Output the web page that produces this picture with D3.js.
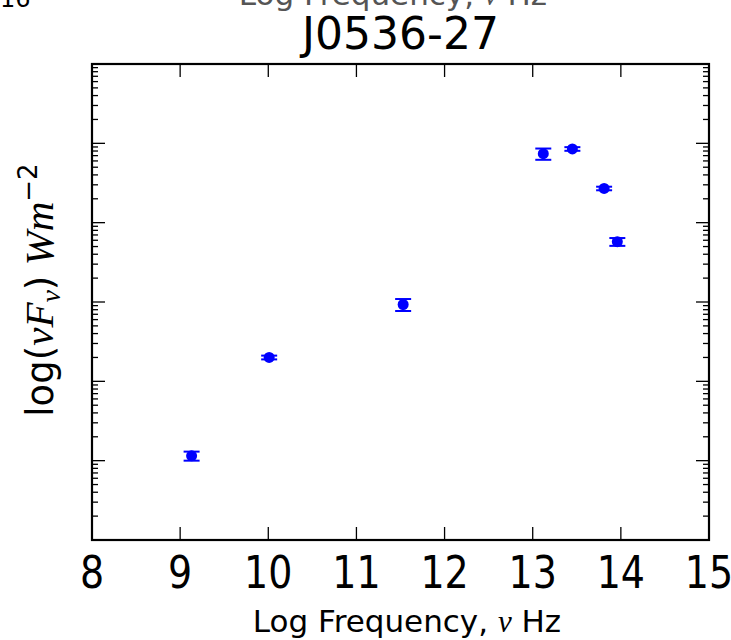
<!DOCTYPE html>
<html lang="en">
<head>
<meta charset="UTF-8">
<title>J0536-27</title>
<script src="https://d3js.org/d3.v7.min.js"></script>
<style>
  body { margin: 0; background: #fff; }
  text { font-family: "DejaVu Sans", sans-serif; }
  .math { font-family: "Liberation Serif", serif; font-style: italic; }
</style>
</head>
<body>
<script>
// data
const logFreq = [9.13, 10.01, 11.53, 13.12, 13.45, 13.81, 13.96];
const nuFnu   = [1.15e-17, 2.0e-16, 9.3e-16, 7.4e-14, 8.5e-14, 2.7e-14, 5.75e-15];
const nuFnuErr = [1.5e-18, 1.1e-17, 1.6e-16, 1.2e-14, 4.5e-15, 1.4e-15, 6.5e-16];
const xTicks = [8, 9, 10, 11, 12, 13, 14, 15];
const decades = [-18, -17, -16, -15, -14, -13, -12];

const width = 731, height = 640;
const plotL = 92, plotR = 709, plotT = 64, plotB = 540;

const svg = d3.select("body").append("svg")
    .attr("width", width)
    .attr("height", height);

const x = d3.scaleLinear().domain([8, 15]).range([plotL, plotR]);
const y = d3.scaleLog().domain([1e-18, 1e-12]).range([plotB, plotT]);

// cut-off bits of the panel above
const topLbl = svg.append("text")
    .attr("x", 393).attr("y", 5)
    .attr("text-anchor", "middle")
    .attr("font-size", 31)
    .attr("fill", "#555");
topLbl.append("tspan").text("Log Frequency, ");
topLbl.append("tspan").attr("class", "math").text("ν");
topLbl.append("tspan").text(" Hz");
svg.append("text")
    .attr("x", 0).attr("y", 7)
    .attr("font-size", 24)
    .text("16");

// ticks
const tickG = svg.append("g").attr("stroke", "#000").attr("stroke-width", 1.3);
xTicks.slice(1, -1).forEach(v => {
    tickG.append("line").attr("x1", x(v)).attr("x2", x(v)).attr("y1", plotB).attr("y2", plotB - 13);
    tickG.append("line").attr("x1", x(v)).attr("x2", x(v)).attr("y1", plotT).attr("y2", plotT + 13);
});
decades.forEach((d, i) => {
    const base = Math.pow(10, d);
    if (i > 0 && i < decades.length - 1) {
        tickG.append("line").attr("x1", plotL).attr("x2", plotL + 13).attr("y1", y(base)).attr("y2", y(base));
        tickG.append("line").attr("x1", plotR).attr("x2", plotR - 13).attr("y1", y(base)).attr("y2", y(base));
    }
    if (i < decades.length - 1) {
        d3.range(2, 10).forEach(m => {
            const yy = y(m * base);
            tickG.append("line").attr("x1", plotL).attr("x2", plotL + 6).attr("y1", yy).attr("y2", yy);
            tickG.append("line").attr("x1", plotR).attr("x2", plotR - 6).attr("y1", yy).attr("y2", yy);
        });
    }
});

// frame
svg.append("rect")
    .attr("x", plotL).attr("y", plotT)
    .attr("width", plotR - plotL).attr("height", plotB - plotT)
    .attr("fill", "none")
    .attr("stroke", "#000")
    .attr("stroke-width", 2.2);

// tick labels (slightly tall, like the reference)
svg.append("g").selectAll("text")
    .data(xTicks)
    .enter().append("text")
    .attr("transform", d => `translate(${x(d)},588) scale(1,1.15)`)
    .attr("text-anchor", "middle")
    .attr("font-size", 38)
    .text(d => d);

// error bars and points
const pts = logFreq.map((f, i) => ({ f: f, v: nuFnu[i], e: nuFnuErr[i] }));
const eb = svg.append("g").attr("stroke", "#0000ff").attr("stroke-width", 2);
pts.forEach(d => {
    const y1 = y(d.v - d.e), y2 = y(d.v + d.e);
    eb.append("line").attr("x1", x(d.f)).attr("x2", x(d.f)).attr("y1", y1).attr("y2", y2);
    eb.append("line").attr("x1", x(d.f) - 8).attr("x2", x(d.f) + 8).attr("y1", y1).attr("y2", y1);
    eb.append("line").attr("x1", x(d.f) - 8).attr("x2", x(d.f) + 8).attr("y1", y2).attr("y2", y2);
});
svg.append("g").selectAll("circle")
    .data(pts)
    .enter().append("circle")
    .attr("cx", d => x(d.f))
    .attr("cy", d => y(d.v))
    .attr("r", 5.5)
    .attr("fill", "#0000ff");

// title
svg.append("text")
    .attr("x", (plotL + plotR) / 2).attr("y", 49)
    .attr("text-anchor", "middle")
    .attr("font-size", 44)
    .text("J0536-27");

// x label
const xl = svg.append("text")
    .attr("x", 407).attr("y", 632)
    .attr("text-anchor", "middle")
    .attr("font-size", 31);
xl.append("tspan").text("Log Frequency, ");
xl.append("tspan").attr("class", "math").text("ν");
xl.append("tspan").text(" Hz");

// y label
const yl = svg.append("text")
    .attr("transform", `translate(53,${(plotT + plotB) / 2 - 12}) rotate(-90)`)
    .attr("text-anchor", "middle")
    .attr("font-size", 37);
yl.append("tspan").text("log(");
yl.append("tspan").attr("class", "math").attr("font-size", 41).text("νF");
yl.append("tspan").attr("class", "math").attr("font-size", 28).attr("dy", 7).text("ν");
yl.append("tspan").attr("dy", -7).text(")");
yl.append("tspan").attr("class", "math").attr("font-size", 41).text(" Wm");
yl.append("tspan").attr("font-size", 26).attr("dy", -16).text("−2");
</script>
</body>
</html>
